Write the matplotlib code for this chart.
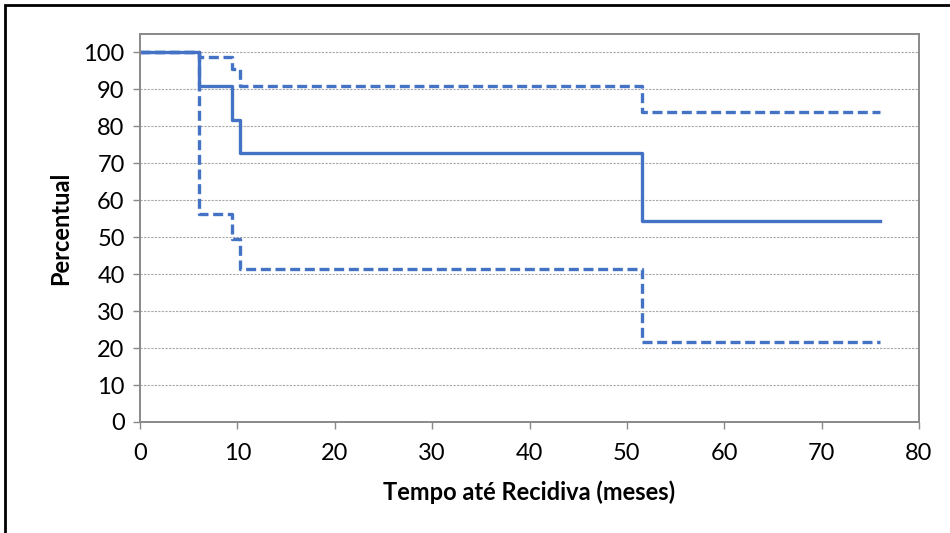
import matplotlib.pyplot as plt
from matplotlib.patches import Rectangle

# Kaplan-Meier estimate with confidence limits (step points)
tempo = [0, 6.1, 9.45, 10.3, 51.6, 76]
sobrevida = [100, 90.9, 81.8, 72.7, 54.5, 54.5]
limite_sup = [100, 98.8, 95.5, 90.9, 83.8, 83.8]
limite_inf = [100, 56.3, 49.6, 41.5, 21.6, 21.6]

azul = '#4472C4'
cinza = '#898989'

plt.rcParams['font.family'] = ['Lato', 'DejaVu Sans']

fig = plt.figure(figsize=(9.5, 5.33), dpi=100)
ax = fig.add_axes([140 / 950, 1 - 422 / 533, 779 / 950, 388 / 533])

ax.step(tempo, sobrevida, where='post', color=azul, linewidth=2.4)
for lim in (limite_sup, limite_inf):
    ln, = ax.step(tempo, lim, where='post', color=azul, linewidth=2.4)
    ln.set_dashes((3.0, 1.4))

ax.set_xlim(0, 80)
ax.set_ylim(0, 105)
ax.set_xticks(range(0, 81, 10))
ax.set_yticks(range(0, 101, 10))
ax.yaxis.grid(True, color='#a6a6a6', linestyle=(0, (2, 1.2)), linewidth=0.8)
ax.set_axisbelow(True)

for s in ax.spines.values():
    s.set_color(cinza)
    s.set_linewidth(1.4)
ax.tick_params(colors=cinza, labelcolor='black', labelsize=17, length=5, width=1)
ax.tick_params(axis='x', pad=10)
ax.tick_params(axis='y', pad=6)

ax.set_xlabel('Tempo até Recidiva (meses)', fontsize=17, fontweight='bold', labelpad=12)
ax.set_ylabel('Percentual', fontsize=17, fontweight='bold', labelpad=8)

# moldura externa
fig.patches.append(Rectangle((5 / 950, -0.2), 1.2, 1.2 - 5 / 533, transform=fig.transFigure,
                             fill=False, edgecolor='black', linewidth=2, zorder=10))

fig.savefig('out.png', dpi=100)
